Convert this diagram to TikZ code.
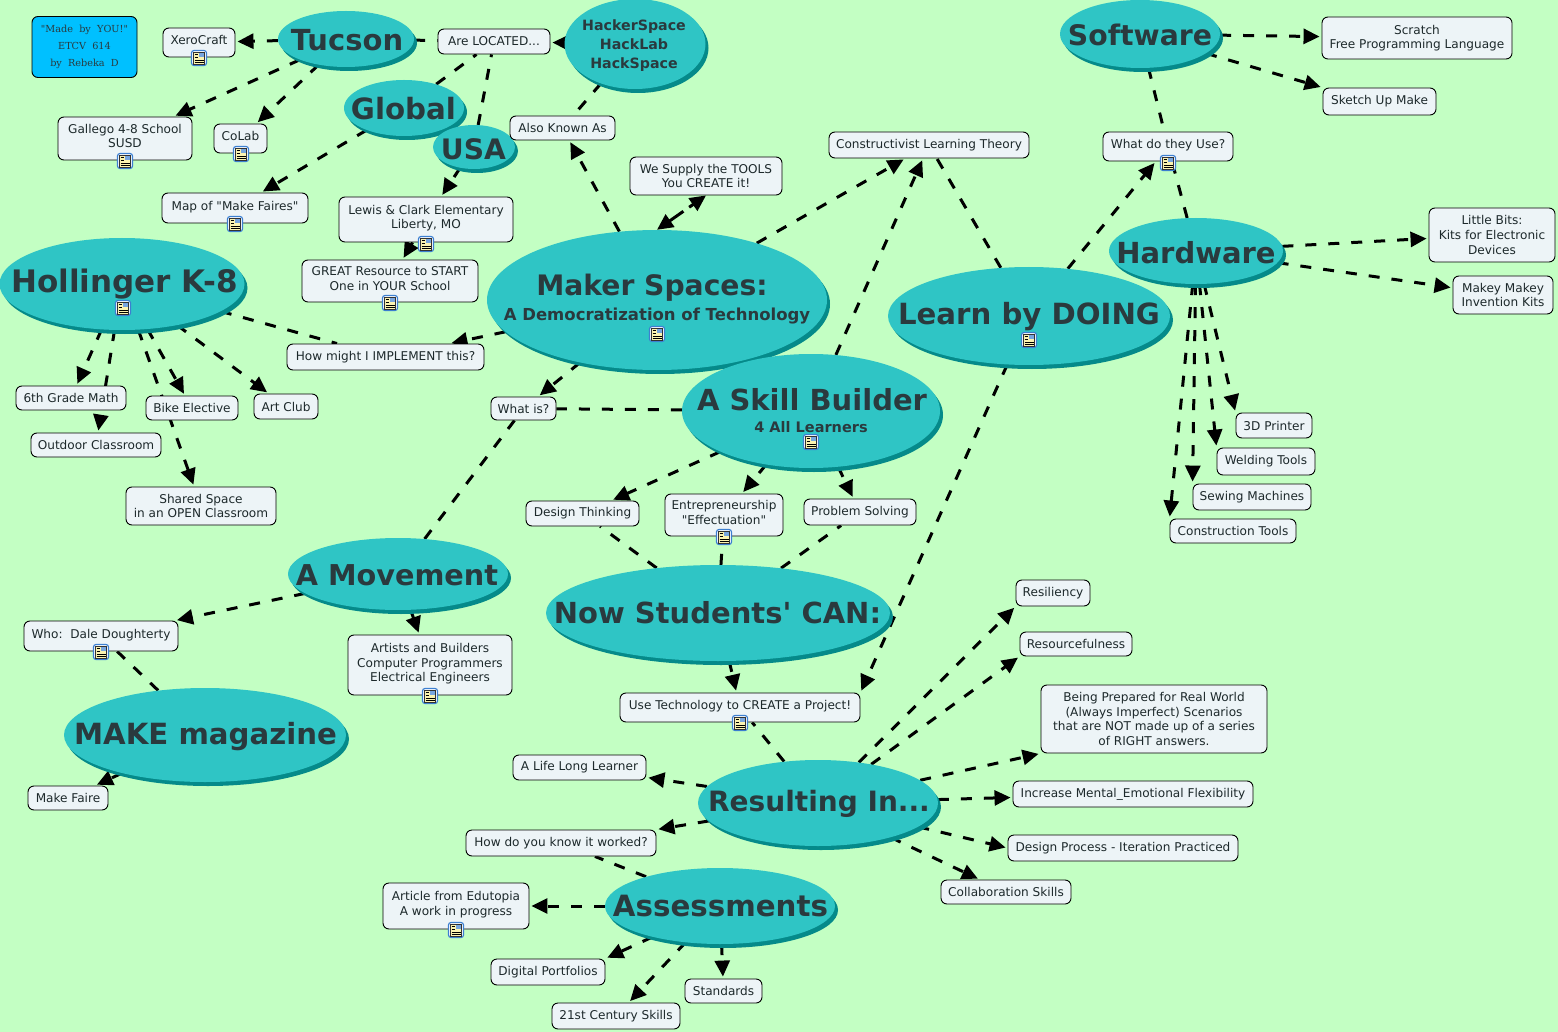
\documentclass[tikz,border=0pt]{standalone}
\usepackage{fontspec}
\setmainfont{DejaVu Sans}[Ligatures=TeXOff]
\newfontfamily\notefont{DejaVu Serif}[Ligatures=TeXOff]
\usetikzlibrary{shapes.geometric,arrows.meta,shadows}
\pgfdeclarelayer{links}
\pgfsetlayers{links,main}
\definecolor{meadow}{HTML}{C3FFC3}
\definecolor{teal1}{HTML}{2FC5C5}
\definecolor{teal2}{HTML}{058A8A}
\definecolor{ink}{HTML}{2A3A3E}
\definecolor{paper}{HTML}{EDF4F7}
\definecolor{skyfill}{HTML}{00C0FF}
\definecolor{iconblue}{HTML}{3C7FD0}
\definecolor{iconpage}{HTML}{FBF3B0}
\tikzset{
	concept/.style={ellipse,fill=teal1,inner sep=0pt,
		general shadow={shadow xshift=3pt,shadow yshift=-4pt,fill=teal2}},
	title/.style={inner sep=0pt,text=ink,align=center,font=\bfseries\fontsize{#1}{19}\selectfont},
	tag/.style={rectangle,rounded corners=6pt,draw=black,line width=.9pt,fill=paper,inner sep=0pt,text=ink!70!black,align=center,
		font=\fontsize{12.1}{14.6}\selectfont},
	icontag/.style={tag,text depth=5pt},
	link/.style={line width=3pt,black,dash pattern=on 11pt off 12pt,shorten >=2pt,-{Triangle[length=16pt,width=15pt]}},
	plain/.style={line width=3pt,black,dash pattern=on 11pt off 12pt},
	iconbox/.style={rectangle,rounded corners=2.5pt,draw=iconblue,line width=1.2pt,fill=white,minimum size=15pt,inner sep=0pt}
}
\newcommand{\docicon}[3]{
	\node[iconbox](#1) at (#2,#3){};
	\fill[iconpage,draw=black!80,line width=.5pt]([shift={(-5.5,-6)}]#1.center) rectangle ([shift={(5.5,6)}]#1.center);
	\fill[iconblue!70]([shift={(0,-5)}]#1.center) rectangle ([shift={(4.5,-1)}]#1.center);
	\draw[black,line width=.6pt]([shift={(-4.5,-3.5)}]#1.center)--([shift={(-1,-3.5)}]#1.center);
	\draw[black,line width=.6pt]([shift={(-4.5,-.5)}]#1.center)--([shift={(-1,-.5)}]#1.center);
	\draw[black,line width=.6pt]([shift={(-4.5,2)}]#1.center)--([shift={(4.5,2)}]#1.center);
	\draw[black,line width=.6pt]([shift={(-4.5,4)}]#1.center)--([shift={(4.5,4)}]#1.center);
}
\begin{document}
\begin{tikzpicture}[x=1pt,y=-1pt]
	\useasboundingbox (0,0) rectangle (1558,1032);
	\node[rectangle,rounded corners=6pt,draw=black,line width=.9pt,fill=skyfill,inner sep=0pt,minimum width=105pt,minimum height=61pt,align=center,text=ink,font=\notefont\fontsize{9.7}{17}\selectfont](madeby) at (84.5,47){"Made\ \ by\ \ YOU!"\\ETCV\ \ 614\\by\ \ Rebeka\ \ D};

	% ovals
	\node[concept,minimum width=136pt,minimum height=56pt](tucson) at (346,39){};
	\node[title=29](tucsontxt) at (347,40){Tucson};
	\node[concept,minimum width=120pt,minimum height=56pt](global) at (404,108){};
	\node[title=29.3](globaltxt) at (403.5,109){Global};
	\node[concept,minimum width=82pt,minimum height=44pt](usa) at (474,147){};
	\node[title=28.2](usatxt) at (473.5,149){USA};
	\node[concept,minimum width=141pt,minimum height=90pt](hacker) at (635,44){};
	\node[title=14.2](hackertxt) at (634,46){HackerSpace\\HackLab\\HackSpace};
	\node[concept,minimum width=160pt,minimum height=68pt](software) at (1140,34){};
	\node[title=28.3](softwaretxt) at (1140,35){Software};
	\node[concept,minimum width=174pt,minimum height=66pt](hardware) at (1196,251){};
	\node[title=29](hardwaretxt) at (1196,253){Hardware};
	\node[concept,minimum width=245pt,minimum height=92pt](hollinger) at (122,284){};
	\node[title=31](hollingertxt) at (124.5,284){Hollinger K-8};
	\node[concept,minimum width=340pt,minimum height=140pt](maker) at (657,300){};
	\node[title=28.2](makertxt) at (652,288){Maker Spaces:};
	\node[title=16.5](makersub) at (657,316){A Democratization of Technology};
	\node[concept,minimum width=282pt,minimum height=98pt](learn) at (1029,316){};
	\node[title=29.2](learntxt) at (1029,317){Learn by DOING};
	\node[concept,minimum width=258pt,minimum height=114pt](skill) at (811,411){};
	\node[title=29](skilltxt) at (812,400){A Skill Builder};
	\node[title=14.5](skillsub) at (811,427){4 All Learners};
	\node[concept,minimum width=220pt,minimum height=72pt](movement) at (398,574){};
	\node[title=28.7](movementtxt) at (397,575){A Movement};
	\node[concept,minimum width=344pt,minimum height=96pt](students) at (718,613){};
	\node[title=29](studentstxt) at (717.5,613){Now Students' CAN:};
	\node[concept,minimum width=282pt,minimum height=94pt](make) at (205,735){};
	\node[title=29.2](maketxt) at (205.5,737){MAKE magazine};
	\node[concept,minimum width=240pt,minimum height=86pt](result) at (818,803){};
	\node[title=28](resulttxt) at (819,804){Resulting In...};
	\node[concept,minimum width=230pt,minimum height=76pt](assess) at (720,906){};
	\node[title=29.3](assesstxt) at (720.5,906){Assessments};

	% boxes
	\node[icontag,minimum width=72pt,minimum height=29pt](xero) at (199,42.5){XeroCraft};
	\node[icontag,minimum width=134pt,minimum height=43pt](gallego) at (125,138.5){Gallego 4-8 School\\SUSD};
	\node[icontag,minimum width=53pt,minimum height=29pt](colab) at (240.5,138.5){CoLab};
	\node[icontag,minimum width=146pt,minimum height=30pt](faires) at (235,208){Map of "Make Faires"};
	\node[tag,minimum width=112pt,minimum height=25pt](located) at (494,41.5){Are LOCATED...};
	\node[tag,minimum width=105pt,minimum height=24pt](known) at (562.5,128){Also Known As};
	\node[tag,minimum width=152pt,minimum height=38pt](supply) at (706,176){We Supply the TOOLS\\You CREATE it!};
	\node[icontag,minimum width=174pt,minimum height=45pt](lewis) at (426,219.5){Lewis \& Clark Elementary\\Liberty, MO};
	\node[icontag,minimum width=176pt,minimum height=42pt](great) at (390,281){GREAT Resource to START\\One in YOUR School};
	\node[tag,minimum width=197pt,minimum height=26pt](implement) at (385.5,357){How might I IMPLEMENT this?};
	\node[tag,minimum width=200pt,minimum height=26pt](theory) at (929,145){Constructivist Learning Theory};
	\node[icontag,minimum width=130pt,minimum height=29pt](use) at (1168,146.5){What do they Use?};
	\node[tag,minimum width=190pt,minimum height=42pt](scratch) at (1417,38){Scratch\\Free Programming Language};
	\node[tag,minimum width=113pt,minimum height=27pt](sketch) at (1379.5,101.5){Sketch Up Make};
	\node[tag,minimum width=126pt,minimum height=54pt](bits) at (1492,235){Little Bits:\\Kits for Electronic\\Devices};
	\node[tag,minimum width=100pt,minimum height=38pt](makey) at (1503,295){Makey Makey\\Invention Kits};
	\node[tag,minimum width=110pt,minimum height=24pt](math) at (71,398){6th Grade Math};
	\node[tag,minimum width=130pt,minimum height=24pt](outdoor) at (96,445){Outdoor Classroom};
	\node[tag,minimum width=92pt,minimum height=24pt](bike) at (192,408){Bike Elective};
	\node[tag,minimum width=64pt,minimum height=25pt](art) at (286,406.5){Art Club};
	\node[tag,minimum width=150pt,minimum height=38pt](shared) at (201,506){Shared Space\\in an OPEN Classroom};
	\node[tag,minimum width=65pt,minimum height=23pt](whatis) at (523.5,408.5){What is?};
	\node[tag,minimum width=113pt,minimum height=25pt](design) at (582.5,513.5){Design Thinking};
	\node[icontag,minimum width=118pt,minimum height=42pt](entre) at (724,515){Entrepreneurship\\"Effectuation"};
	\node[tag,minimum width=112pt,minimum height=26pt](problem) at (860,512){Problem Solving};
	\node[tag,minimum width=76pt,minimum height=25pt](printer) at (1274,425.5){3D Printer};
	\node[tag,minimum width=98pt,minimum height=27pt](welding) at (1266,461.5){Welding Tools};
	\node[tag,minimum width=118pt,minimum height=26pt](sewing) at (1252,497){Sewing Machines};
	\node[tag,minimum width=126pt,minimum height=24pt](construct) at (1233,531){Construction Tools};
	\node[tag,minimum width=74pt,minimum height=26pt](resiliency) at (1053,593){Resiliency};
	\node[tag,minimum width=112pt,minimum height=24pt](resource) at (1076,644){Resourcefulness};
	\node[tag,minimum width=226pt,minimum height=68pt](prepared) at (1154,719){Being Prepared for Real World\\(Always Imperfect) Scenarios\\that are NOT made up of a series\\of RIGHT answers.};
	\node[tag,minimum width=240pt,minimum height=26pt](flex) at (1133,794){Increase Mental\_Emotional Flexibility};
	\node[tag,minimum width=230pt,minimum height=26pt](iterate) at (1123,848){Design Process - Iteration Practiced};
	\node[tag,minimum width=130pt,minimum height=24pt](collab) at (1006,892){Collaboration Skills};
	\node[icontag,minimum width=240pt,minimum height=29pt](create) at (740,707.5){Use Technology to CREATE a Project!};
	\node[tag,minimum width=133pt,minimum height=25pt](lifelong) at (579.5,767.5){A Life Long Learner};
	\node[tag,minimum width=190pt,minimum height=26pt](worked) at (561,843){How do you know it worked?};
	\node[icontag,minimum width=146pt,minimum height=46pt](article) at (456,906){Article from Edutopia\\A work in progress};
	\node[tag,minimum width=114pt,minimum height=26pt](digital) at (548,972){Digital Portfolios};
	\node[tag,minimum width=77pt,minimum height=24pt](standards) at (723.5,991){Standards};
	\node[tag,minimum width=128pt,minimum height=26pt](skills21) at (616,1016){21st Century Skills};
	\node[icontag,minimum width=154pt,minimum height=30pt](who) at (101,636){Who:\ \ Dale Doughterty};
	\node[tag,minimum width=80pt,minimum height=24pt](faire) at (68,798){Make Faire};
	\node[icontag,minimum width=164pt,minimum height=60pt](artists) at (430,665){Artists and Builders\\Computer Programmers\\Electrical Engineers};

	% icons
	\docicon{i1}{199}{58}
	\docicon{i2}{125}{161}
	\docicon{i3}{241}{154}
	\docicon{i4}{235}{224}
	\docicon{i5}{426}{244}
	\docicon{i6}{390}{303}
	\docicon{i7}{123}{308}
	\docicon{i8}{657}{334}
	\docicon{i9}{1168}{163}
	\docicon{i10}{1029}{340}
	\docicon{i11}{811}{442}
	\docicon{i12}{724}{537}
	\docicon{i13}{101}{652}
	\docicon{i14}{430}{696}
	\docicon{i15}{740}{723}
	\docicon{i16}{456}{930}

	\begin{pgfonlayer}{links}
		\fill[meadow](0,0) rectangle (1558,1032);
		\draw[link](tucson)--(xero);
		\draw[link](tucson)--(gallego);
		\draw[link](tucson)--(colab);
		\draw[plain](tucson)--(located);
		\draw[plain](global)--(located);
		\draw[plain](usa)--(located);
		\draw[link](hacker)--(located);
		\draw[link](global)--(faires);
		\draw[link](usa)--(lewis);
		\draw[link](lewis)--(great);
		\draw[plain](hacker)--(known);
		\draw[link](maker)--(known);
		\draw[line width=3pt,dash pattern=on 17pt off 7pt,{Triangle[length=16pt,width=15pt]}-{Triangle[length=16pt,width=15pt]}](maker.north)--(supply.south);
		\draw[link](maker)--(theory);
		\draw[link](skill)--(theory);
		\draw[plain](learn)--(theory);
		\draw[link](learn)--(use);
		\draw[plain](software)--(use);
		\draw[plain](hardware)--(use);
		\draw[link](software)--(scratch);
		\draw[link](software)--(sketch.north west);
		\draw[link](hardware)--(bits);
		\draw[link](hardware)--(makey);
		\draw[link](hardware)--(printer.north west);
		\draw[link](hardware)--(welding.north west);
		\draw[link](hardware)--(sewing.north west);
		\draw[link](hardware)--(construct.north west);
		\draw[plain](hollinger)--(implement);
		\draw[link](maker)--(implement);
		\draw[link](hollinger)--(math);
		\draw[link](hollinger)--(outdoor);
		\draw[link](hollinger)--(bike);
		\draw[link](hollinger)--(art);
		\draw[link](hollinger)--(shared);
		\draw[link](maker)--(whatis);
		\draw[plain](skill)--(whatis);
		\draw[plain](movement)--(whatis);
		\draw[link](movement)--(who);
		\draw[link](movement)--(artists);
		\draw[plain](make)--(who);
		\draw[link](make)--(faire);
		\draw[link](skill)--(design);
		\draw[link](skill)--(entre);
		\draw[link](skill)--(problem);
		\draw[plain](students)--(design);
		\draw[plain](students)--(entre);
		\draw[plain](students)--(problem);
		\draw[link](students)--(create);
		\draw[link](learn)--(create.north east);
		\draw[plain](result)--(create);
		\draw[link](result)--(resiliency.south west);
		\draw[link](result)--(resource.south west);
		\draw[link](result)--(prepared.south west);
		\draw[link](result)--(flex);
		\draw[link](result)--(iterate.west);
		\draw[link](result)--(collab);
		\draw[link](result)--(lifelong);
		\draw[link](result)--(worked.north east);
		\draw[plain](assess)--(worked);
		\draw[link](assess)--(article);
		\draw[link](assess)--(digital.north east);
		\draw[link](assess)--(standards);
		\draw[link](assess)--(skills21);
	\end{pgfonlayer}
\end{tikzpicture}
\end{document}
